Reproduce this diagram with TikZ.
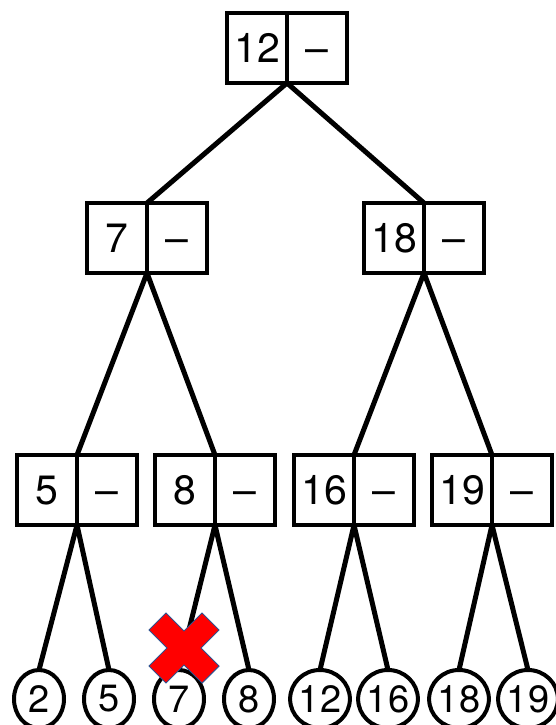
\documentclass[tikz,border=0pt]{standalone}
\usepackage{fontspec}
\setmainfont{TeX Gyre Heros}
\usetikzlibrary{positioning,shapes.geometric}
\definecolor{crossred}{HTML}{FF0000}
\definecolor{crossedge}{HTML}{2F528F}
\begin{document}
\begin{tikzpicture}[x=1pt,y=-1pt,
  cell/.style={draw, line width=4.5pt, outer sep=0pt, inner sep=0pt,
    minimum width=60pt, minimum height=70pt, text height=29pt, text depth=0pt,
    font=\fontsize{41}{41}\selectfont},
  leaf/.style={ellipse, draw, line width=4pt, outer sep=0pt, inner sep=0pt,
    minimum width=50pt, minimum height=58pt, font=\fontsize{38}{38}\selectfont},
  branch/.style={line width=5pt}]
  \useasboundingbox (0,0) rectangle (556,725);
  % internal nodes: key cell with an empty pointer cell beside it
  \node[cell] (k12) at (257,48) {12};
  \node[cell, right=0pt of k12] (p12) {--};
  \node[cell] (k7) at (117,238) {7};
  \node[cell, right=0pt of k7] (p7) {--};
  \node[cell] (k18) at (394,238) {18};
  \node[cell, right=0pt of k18] (p18) {--};
  \foreach \v/\x in {5/47,8/185,16/324,19/462} {
    \node[cell] (k\v) at (\x,490) {\v};
    \node[cell, right=0pt of k\v] (p\v) {--};
  }
  % leaves
  \foreach \v/\x in {2/39,5/109,7/179,8/249,12/320,16/388,18/459,19/528}
    \node[leaf] (l\v) at (\x,699) {\v};
  % branches from each divider
  \draw[branch] (k12.south east) -- (k7.north east);
  \draw[branch] (k12.south east) -- (k18.north east);
  \draw[branch] (k7.south east) -- (k5.north east);
  \draw[branch] (k7.south east) -- (k8.north east);
  \draw[branch] (k18.south east) -- (k16.north east);
  \draw[branch] (k18.south east) -- (k19.north east);
  \foreach \p/\a/\b in {5/2/5,8/7/8,16/12/16,19/18/19} {
    \draw[branch] (k\p.south east) -- (l\a.north);
    \draw[branch] (k\p.south east) -- (l\b.north);
  }
  % red cross over leaf 7
  \filldraw[fill=crossred, draw=crossedge, line width=1pt, shift={(184,648)}, rotate=45]
    (12,37.5) -- (12,12) -- (37.5,12) -- (37.5,-12) -- (12,-12) -- (12,-37.5)
    -- (-12,-37.5) -- (-12,-12) -- (-37.5,-12) -- (-37.5,12) -- (-12,12)
    -- (-12,37.5) -- cycle;
\end{tikzpicture}
\end{document}
